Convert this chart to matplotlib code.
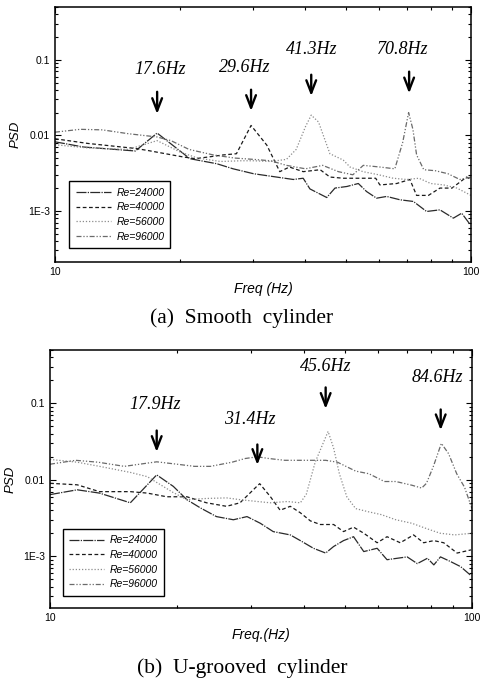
import matplotlib
matplotlib.use("Agg")
import matplotlib.pyplot as plt
from matplotlib.ticker import FixedLocator, LogLocator, NullFormatter

# ---------------- data: (a) smooth cylinder ----------------
a_f24 = [10, 11.7, 15.6, 17.6, 21.1, 24.5, 26.8, 30, 37.4, 39.5, 41, 45, 47.1, 50.3, 53.6, 56.1, 59.3, 62.7, 67.5, 72.7, 78.2, 84.2, 90.7, 95, 99.5]
a_p24 = [0.0082, 0.0070, 0.0062, 0.0107, 0.0049, 0.0042, 0.0036, 0.0031, 0.0026, 0.0027, 0.00195, 0.0015, 0.0020, 0.0021, 0.0023, 0.0018, 0.00147, 0.00155, 0.0014, 0.00133, 0.00098, 0.00103, 0.0008, 0.00093, 0.00066]

a_f40 = [10, 12.0, 15.6, 16.7, 20.2, 21.7, 23.6, 25.4, 27.3, 29.6, 32.3, 34.7, 36.6, 39.5, 43.4, 45.8, 49.3, 55, 59, 60.4, 66.3, 71.3, 74, 79, 84.2, 90, 97.6, 100]
a_p40 = [0.0090, 0.0078, 0.0067, 0.0063, 0.0052, 0.0049, 0.0052, 0.0055, 0.0057, 0.0135, 0.0074, 0.0033, 0.0038, 0.0033, 0.0035, 0.0028, 0.0027, 0.0027, 0.0027, 0.0022, 0.0023, 0.0026, 0.0016, 0.0016, 0.0020, 0.0020, 0.0028, 0.0026]

a_f56 = [10, 12, 15, 17.6, 20, 22, 25, 28, 30, 33, 36, 38, 40, 41.3, 43, 45.8, 49.3, 51.2, 55, 60, 65, 70, 75, 80, 86, 92.5, 100]
a_p56 = [0.0075, 0.0068, 0.0065, 0.0085, 0.0060, 0.0050, 0.0045, 0.0046, 0.0046, 0.0045, 0.0048, 0.0065, 0.013, 0.0185, 0.0150, 0.0057, 0.0047, 0.0038, 0.0033, 0.0030, 0.0027, 0.0026, 0.0027, 0.0023, 0.0022, 0.0020, 0.0016]

a_f96 = [10, 11.5, 13, 15, 17.6, 19, 21, 24, 27, 30, 33, 36, 40, 44, 48, 52, 55.1, 60.4, 65.6, 68.5, 70.8, 72.5, 74, 77, 82, 88, 94, 100]
a_p96 = [0.0110, 0.0120, 0.0118, 0.0105, 0.0095, 0.0085, 0.0065, 0.0055, 0.0050, 0.0048, 0.0046, 0.0040, 0.0036, 0.0040, 0.0033, 0.0030, 0.0040, 0.0038, 0.0036, 0.0080, 0.0200, 0.0120, 0.0055, 0.0035, 0.0034, 0.0031, 0.0026, 0.0028]

# ---------------- data: (b) U-grooved cylinder ----------------
b_f24 = [10, 11.6, 13.1, 15.5, 17.9, 19.6, 21.1, 22.7, 24.8, 27.2, 29.3, 31.5, 33.8, 37.1, 39.2, 42.1, 45, 47, 49.6, 52.4, 55.4, 59.6, 62.9, 66.5, 70.2, 74.2, 78.4, 81.2, 84.2, 89, 94, 99]
b_p24 = [0.0064, 0.0074, 0.0067, 0.0050, 0.0116, 0.0082, 0.0055, 0.0043, 0.0033, 0.0030, 0.0033, 0.0027, 0.0021, 0.0019, 0.0016, 0.00127, 0.0011, 0.00134, 0.0016, 0.0018, 0.00115, 0.00127, 0.0009, 0.00094, 0.00098, 0.0008, 0.00094, 0.00077, 0.00098, 0.00085, 0.00073, 0.00057]

b_f40 = [10, 11.6, 13.1, 15.5, 17.0, 18.9, 21.1, 23.5, 26.2, 28.2, 30.9, 31.4, 33.3, 35.1, 37.1, 39.2, 41.4, 43.7, 47, 49.6, 52.4, 55.4, 59.6, 62.9, 67.6, 72.7, 76.8, 81.2, 85.7, 92.2, 99.5]
b_p40 = [0.0090, 0.0086, 0.0070, 0.0070, 0.0067, 0.0060, 0.0060, 0.0050, 0.0045, 0.0050, 0.0082, 0.0089, 0.0060, 0.0040, 0.0045, 0.0037, 0.0029, 0.0026, 0.0026, 0.0021, 0.0024, 0.0020, 0.0015, 0.0018, 0.0015, 0.0019, 0.0015, 0.0016, 0.0015, 0.0011, 0.00121]

b_f56 = [10, 11.6, 13.1, 15.5, 17.0, 19.6, 21.1, 23.5, 26.2, 28.2, 31, 33.3, 36.5, 39.2, 40.5, 42.5, 45.6, 47, 48.5, 50.5, 53, 57, 61, 66, 72, 78, 84, 91, 100]
b_p56 = [0.0185, 0.0170, 0.0150, 0.0125, 0.0110, 0.0068, 0.0055, 0.0057, 0.0058, 0.0055, 0.0052, 0.0050, 0.0052, 0.0050, 0.0065, 0.0170, 0.0430, 0.0260, 0.0120, 0.0060, 0.0042, 0.0038, 0.0035, 0.0030, 0.0027, 0.0023, 0.0020, 0.0019, 0.0020]

b_f96 = [10, 11.5, 13, 15, 17.9, 20, 22, 24, 27, 29, 31, 33, 36, 40, 45, 48, 53, 57, 62, 66, 72, 76, 78, 81, 84.6, 88, 92, 96, 100]
b_p96 = [0.0160, 0.0180, 0.0170, 0.0150, 0.0172, 0.0160, 0.0150, 0.0150, 0.0170, 0.0190, 0.0200, 0.0190, 0.0180, 0.0180, 0.0180, 0.0170, 0.0130, 0.0120, 0.0095, 0.0095, 0.0085, 0.0078, 0.0090, 0.0150, 0.0300, 0.0220, 0.0120, 0.0080, 0.0042]

labels = ["Re=24000", "Re=40000", "Re=56000", "Re=96000"]
a_peaks = ["17.6Hz", "29.6Hz", "41.3Hz", "70.8Hz"]
b_peaks = ["17.9Hz", "31.4Hz", "45.6Hz", "84.6Hz"]
y_ticks = [0.1, 0.01, 1e-3]
y_ticklabels = ["0.1", "0.01", "1E-3"]
x_ticks = [10, 100]
x_ticklabels = ["10", "100"]

styles = [
    dict(color="#2a2a2a", lw=0.9, ls=(0, (8, 1, 1, 1))),
    dict(color="#1a1a1a", lw=0.9, ls=(0, (3, 2))),
    dict(color="#8c8c8c", lw=0.9, ls=(0, (1, 1.5))),
    dict(color="#6a6a6a", lw=0.9, ls=(0, (4, 1.5, 1, 1.5, 1, 1.5))),
]

W, H = 481, 682
fig = plt.figure(figsize=(W / 100, H / 100), dpi=100)

def make_ax(l, t, r, b):
    return fig.add_axes([l / W, 1 - b / H, (r - l) / W, (b - t) / H])

ax1 = make_ax(55, 7, 471, 262)
ax2 = make_ax(50, 350, 472, 608)

sans = "Liberation Sans"
serif = "Liberation Serif"

def setup(ax, xlabel, legbox):
    ax.set_xscale("log")
    ax.set_yscale("log")
    ax.set_xlim(10, 100)
    ax.set_ylim(2.1e-4, 0.5)
    ax.yaxis.set_major_locator(FixedLocator(y_ticks))
    ax.set_yticklabels(y_ticklabels, fontfamily=sans, fontsize=7.5)
    ax.yaxis.set_minor_locator(LogLocator(base=10, subs=range(2, 10)))
    ax.yaxis.set_minor_formatter(NullFormatter())
    ax.xaxis.set_major_locator(FixedLocator(x_ticks))
    ax.set_xticklabels(x_ticklabels, fontfamily=sans, fontsize=7.5)
    ax.xaxis.set_minor_locator(LogLocator(base=10, subs=range(2, 10)))
    ax.xaxis.set_minor_formatter(NullFormatter())
    ax.tick_params(which="both", direction="in", top=True, right=True, width=0.8)
    ax.tick_params(which="major", length=4)
    ax.tick_params(which="minor", length=2.5)
    for s in ax.spines.values():
        s.set_linewidth(1.1)
    ax.set_ylabel("PSD", fontfamily=sans, fontstyle="italic", fontsize=9.5, labelpad=5)
    ax.set_xlabel(xlabel, fontfamily=sans, fontstyle="italic", fontsize=10, labelpad=4)
    leg = ax.legend(loc="lower left", bbox_to_anchor=legbox, fancybox=False,
                    framealpha=1, edgecolor="black", handlelength=3.4,
                    prop=dict(family=sans, style="italic", size=7.5),
                    labelspacing=0.45, borderpad=0.6, handletextpad=0.5)
    leg.get_frame().set_linewidth(1.0)

def arrows(ax, freqs, tips, tails, texts, names):
    for f, tip, tail, (tf, ty), name in zip(freqs, tips, tails, texts, names):
        ax.annotate("", xy=(f, tip), xytext=(f, tail),
                    arrowprops=dict(arrowstyle="->,head_length=0.9,head_width=0.35",
                                    color="black", lw=1.7))
        ax.text(tf, ty, name, ha="center", va="center", fontfamily=serif,
                fontstyle="italic", fontsize=13)

for f, p, st, lab in zip([a_f24, a_f40, a_f56, a_f96], [a_p24, a_p40, a_p56, a_p96], styles, labels):
    ax1.plot(f, p, label=lab, **st)
for f, p, st, lab in zip([b_f24, b_f40, b_f56, b_f96], [b_p24, b_p40, b_p56, b_p96], styles, labels):
    ax2.plot(f, p, label=lab, **st)

setup(ax1, "Freq (Hz)", (0.022, 0.035))
setup(ax2, "Freq.(Hz)", (0.018, 0.028))

arrows(ax1, [17.6, 29.6, 41.3, 71.0],
       [0.0176, 0.0193, 0.0304, 0.033],
       [0.041, 0.0437, 0.069, 0.0758],
       [(17.9, 0.0755), (28.6, 0.080), (41.5, 0.138), (68.7, 0.138)], a_peaks)
arrows(ax2, [17.9, 31.0, 45.0, 84.3],
       [0.0213, 0.0144, 0.078, 0.041],
       [0.048, 0.0315, 0.176, 0.0905],
       [(17.7, 0.096), (29.8, 0.061), (44.9, 0.30), (82.6, 0.217)], b_peaks)

fig.text(242 / W, 1 - 318 / H, "(a)  Smooth  cylinder", ha="center", va="center",
         fontfamily=serif, fontsize=15.5)
fig.text(242 / W, 1 - 668 / H, "(b)  U-grooved  cylinder", ha="center", va="center",
         fontfamily=serif, fontsize=15.5)

fig.savefig("out.png", dpi=100)
